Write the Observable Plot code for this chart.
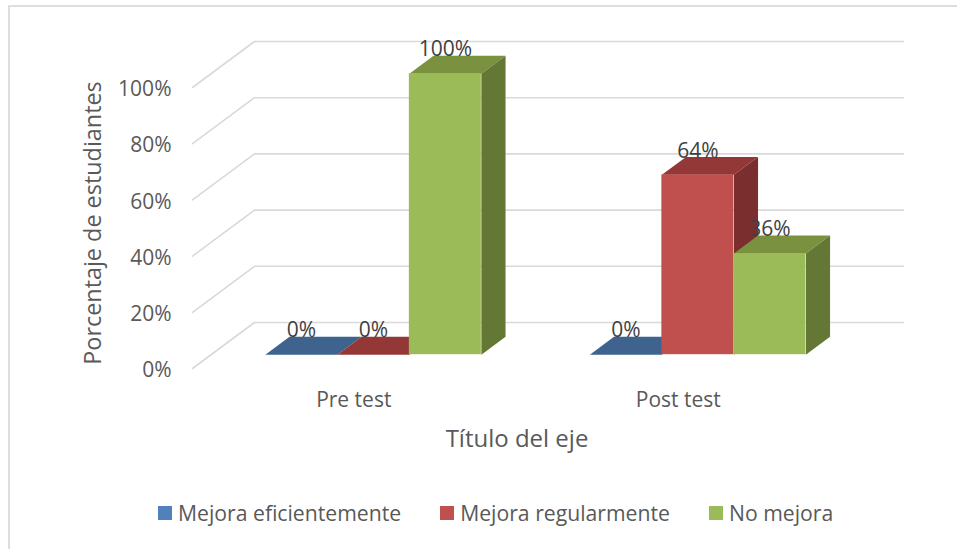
<!DOCTYPE html>
<html>
<head>
<meta charset="utf-8">
<script src="https://cdn.jsdelivr.net/npm/d3@7"></script>
<script src="https://cdn.jsdelivr.net/npm/@observablehq/plot@0.6"></script>
<style>
html,body{margin:0;padding:0;background:#fff;width:957px;height:549px;overflow:hidden;font-family:"Open Sans",sans-serif}
#frame{position:absolute;left:8px;top:5px;width:960px;height:560px;border:2px solid #dedede;box-sizing:border-box}
#chart{position:absolute;left:0;top:0}
#legend{position:absolute;left:158px;top:496px;white-space:nowrap}
.lg-swatch{margin-right:39px !important}
.lg-swatch svg{margin-right:6px !important}
</style>
</head>
<body>
<div id="frame"></div>
<div id="chart"></div>
<div id="legend"></div>
<script>
const categories = ["Pre test", "Post test"];
const seriesNames = ["Mejora eficientemente", "Mejora regularmente", "No mejora"];
const mejoraEficientemente = [0, 0];
const mejoraRegularmente = [0, 64];
const noMejora = [100, 36];
const yTicks = [0, 20, 40, 60, 80, 100];
const frontColors = ["#4F81BD", "#C0504D", "#9BBB59"];
const topColors = ["#3E638F", "#943837", "#7A9140"];
const sideColors = ["#324F73", "#7A2F2E", "#647734"];

// Oblique projection, expressed in scale units
const wallDepthX = 0.191;   // category units
const wallDepthY = 16.37;   // percent units
const barWidth = 0.2219;
const gap = (1 - 3 * barWidth) / 2;
const d0 = 0.3, d1 = 0.69;  // depth span of the bars inside the floor

const px = (x, d) => x + d * wallDepthX;
const py = (v, d) => v + d * wallDepthY;

const values = [mejoraEficientemente, mejoraRegularmente, noMejora];
const bars = [];
categories.forEach((c, i) => seriesNames.forEach((s, j) => {
  const x0 = i + gap + j * barWidth;
  bars.push({c, s, j, v: values[j][i], x0, x1: x0 + barWidth});
}));

const grid = yTicks.flatMap(v => [
  {v, x: px(0, 0), y: py(v, 0)},
  {v, x: px(0, 1), y: py(v, 1)},
  {v, x: px(2, 1), y: py(v, 1)}
]);

// Painter's order: each bar draws top, side, front
const poly = (b, kind) => {
  const {x0, x1, v} = b;
  const pts = kind === "top"
    ? [[px(x0,d0),py(v,d0)],[px(x1,d0),py(v,d0)],[px(x1,d1),py(v,d1)],[px(x0,d1),py(v,d1)]]
    : [[px(x1,d0),py(0,d0)],[px(x1,d0),py(v,d0)],[px(x1,d1),py(v,d1)],[px(x1,d1),py(0,d1)]];
  return pts.map(([x, y]) => ({x, y, id: b.c + b.s + kind, fill: (kind === "top" ? topColors : sideColors)[b.j]}));
};

const barMarks = bars.flatMap(b => {
  const out = [];
  out.push(Plot.line(poly(b, "top"), {x: "x", y: "y", z: "id", fill: "fill", stroke: null, curve: "linear"}));
  if (b.v > 0) {
    out.push(Plot.line(poly(b, "side"), {x: "x", y: "y", z: "id", fill: "fill", stroke: null, curve: "linear"}));
    out.push(Plot.rect([b], {
      x1: d => px(d.x0, d0), x2: d => px(d.x1, d0),
      y1: () => py(0, d0), y2: d => py(d.v, d0),
      fill: frontColors[b.j]
    }));
  }
  return out;
});

const svgHeight = 480;
const chart = Plot.plot({
  width: 957,
  height: svgHeight,
  marginLeft: 192,
  marginRight: 54,
  marginTop: 41,
  marginBottom: svgHeight - 368,
  style: {background: "transparent", fontFamily: "'Open Sans', sans-serif", color: "#595959", overflow: "visible"},
  x: {type: "linear", domain: [0, 2 + wallDepthX]},
  y: {type: "linear", domain: [0, 100 + wallDepthY]},
  marks: [
    Plot.line(grid, {x: "x", y: "y", z: "v", stroke: "#d9d9d9", strokeWidth: 1.6, curve: "linear"}),
    Plot.axisY({
      ticks: yTicks, tickSize: 0, tickPadding: 21, label: null, dy: 2,
      tickFormat: d => d + "%", fontSize: 21, fill: "#595959"
    }),
    Plot.axisX({
      ticks: [0.5, 1.5], tickSize: 0, tickPadding: 24, label: null, dx: -1,
      tickFormat: d => categories[d - 0.5], fontSize: 21, fill: "#595959"
    }),
    ...barMarks,
    Plot.text(bars, {
      x: d => px((d.x0 + d.x1) / 2, d0), y: d => py(d.v, d0),
      text: d => d.v + "%", dy: -24, fontSize: 21, fill: "#404040", textAnchor: "middle"
    }),
    Plot.text(["Título del eje"], {frameAnchor: "bottom", dx: -31, dy: 61, fontSize: 24, fill: "#595959", lineAnchor: "top"}),
    Plot.text(["Porcentaje de estudiantes"], {frameAnchor: "left", dx: -99, dy: 18, rotate: -90, fontSize: 23.4, fill: "#595959", textAnchor: "middle"})
  ]
});
document.getElementById("chart").appendChild(chart);

const legend = Plot.legend({
  color: {type: "ordinal", domain: seriesNames, range: frontColors},
  swatchSize: 14,
  className: "lg",
  style: {fontFamily: "'Open Sans', sans-serif", fontSize: "21.2px", color: "#595959"}
});
document.getElementById("legend").appendChild(legend);
</script>
</body>
</html>
